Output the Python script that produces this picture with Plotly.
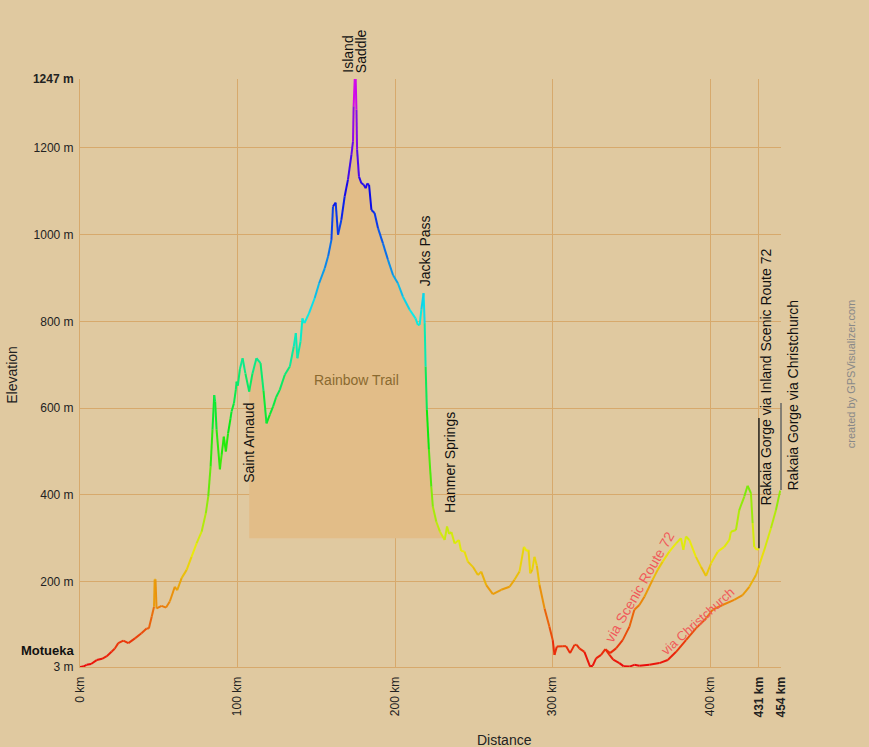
import colorsys
import numpy as np
import plotly.graph_objects as go

# ---------------- data (km, metres) ----------------
# Shared route Motueka -> split point (~333 km)
DIST_MAIN = [0, 2, 4.2, 7, 10.6, 14, 17, 20, 22, 24.3, 27.5, 30.7, 34.9, 39, 42.3, 43.7,
             45.5, 47, 47.4, 47.9, 48.6, 51.8, 54.6, 57, 60.2, 61.7, 64.5, 67.7, 70.8, 74,
             77.2, 79.9, 81.4, 82.9, 84.1, 85.2, 85.8, 86.7, 88.8, 89.9, 91.3, 92.6, 94,
             95.5, 96.2, 97.7, 98.9, 99.4, 100.2, 101.5, 103.2, 105, 107.4, 109.5, 112,
             114.6, 116.5, 118.4, 120.5, 122.6, 124.5, 126.8, 130, 133.2, 135.7, 137, 138,
             140, 141.2, 142.5, 145.4, 149, 151.8, 155.4, 157.5, 159.6, 160.6, 162.3, 163.8,
             165.9, 168, 170.1, 172.3, 173.3, 173.7, 174.4, 175, 175.5, 175.9, 177.1, 178.6,
             180.1, 181.4, 182.3, 183.5, 185, 187, 189.2, 192.3, 195.5, 198.7, 201.8, 205,
             209.3, 213, 214.5, 215.6, 216.7, 218.1, 218.8, 219.4, 220.2, 221.5, 223, 224,
             226.2, 228.5, 231.5, 233, 234.3, 235.8, 237.8, 240.5, 241.9, 244.1, 246.2, 249.4,
             252.6, 254.7, 257.9, 262.1, 267.4, 272.7, 275.8, 279, 281.8, 283.7, 284.7, 285.8,
             287.1, 288.5, 290, 291.7, 294.9, 298, 300.1, 301.2, 302.7, 306.5, 308.6, 311.1,
             313.9, 315.3, 317, 320.2, 323.8, 325.5, 327.6, 330.8, 333.5]
ELEV_MAIN = [3, 4, 8, 10, 19, 22, 28, 38, 45, 58, 64, 58, 69, 81, 92, 92,
             119, 142, 205, 205, 138, 144, 140, 154, 188, 180, 208, 227, 257, 288,
             315, 358, 396, 465, 550, 630, 615, 550, 459, 492, 534, 500, 542,
             575, 592, 611, 642, 661, 652, 690, 715, 680, 638, 680, 715,
             704, 640, 565, 585, 604, 625, 642, 677, 696, 742, 773, 715,
             754, 807, 796, 819, 854, 888, 923, 950, 988, 1065, 1074, 1000,
             1034, 1088, 1127, 1184, 1215, 1296, 1359, 1359, 1288, 1196, 1134, 1119,
             1115, 1107, 1118, 1115, 1057, 1050, 1015, 980, 942, 907, 888, 857,
             827, 807, 792, 792, 827, 865, 796, 696, 596, 504, 419, 373,
             338, 315, 296, 327, 310, 314, 288, 296, 271, 269, 246, 234,
             215, 223, 192, 171, 181, 188, 204, 223, 280, 270, 273, 219,
             227, 257, 237, 192, 138, 96, 65, 31, 50, 51, 51, 35,
             54, 54, 46, 38, 4, 6, 23, 31, 44]

# Branch via Inland Scenic Route 72 (ends at Rakaia Gorge, 431 km)
DIST_SCENIC = [333.5, 336.5, 340.3, 344.5, 348.8, 351.9, 355.1, 358.3, 363.5, 366.7, 369.9,
               374.1, 378.4, 381.5, 383, 384.7, 386.8, 391, 394.2, 397.4, 400.6, 404.8, 409,
               412.2, 413.2, 416.4, 418.5, 421.7, 423.8, 425.9, 427, 428, 429.7, 431]
ELEV_SCENIC = [44, 35, 46, 65, 96, 135, 146, 165, 204, 227, 246,
               269, 288, 300, 273, 304, 296, 257, 234, 213, 242, 269, 280,
               296, 315, 319, 365, 396, 421, 404, 335, 280, 273, 277]

# Branch via Christchurch (ends at Rakaia Gorge, 454 km)
DIST_CHCH = [333.5, 336.1, 338.5, 342.4, 345, 348.8, 351.9, 355.1, 361.4, 367.8, 373.1,
             378.4, 384.7, 391, 397.4, 401.6, 407.9, 415.3, 420.6, 424.9, 429.1, 431.2,
             434.4, 438.6, 441.8, 444.5]
ELEV_CHCH = [44, 31, 20, 12, 5, 4, 8, 6, 8, 12, 19,
             38, 65, 92, 115, 135, 146, 158, 169, 188, 215, 238,
             273, 323, 365, 410]

Y_TICK_VALS = [3, 200, 400, 600, 800, 1000, 1200, 1359]
Y_TICK_TEXT = ["3 m", "200 m", "400 m", "600 m", "800 m", "1000 m", "1200 m", "<b>1247 m</b>"]
X_TICK_VALS = [0, 100, 200, 300, 400, 431, 445]
X_TICK_TEXT = ["0 km", "100 km", "200 km", "300 km", "400 km", "<b>431 km</b>", "<b>454 km</b>"]

RAINBOW_START, RAINBOW_END, RAINBOW_BASE = 107.4, 230.0, 300

X_MAX = 445
Y_MIN, Y_MAX = 3, 1359

# ---------------- styling ----------------
BG = "#E0C9A0"
GRID = "#D7A96C"
FILL = "#E2BD88"
FONT = "Liberation Sans, Arial, sans-serif"
PINK = "#F05A5A"


def elev_color(e):
    t = min(max((e - Y_MIN) / (Y_MAX - Y_MIN), 0), 1)
    r, g, b = colorsys.hsv_to_rgb(t * 300 / 360, 0.95, 0.92)
    return f"rgb({int(r*255)},{int(g*255)},{int(b*255)})"


fig = go.Figure()

# Rainbow Trail shaded area
dm = np.array(DIST_MAIN, dtype=float)
em = np.array(ELEV_MAIN, dtype=float)
mask = (dm >= RAINBOW_START) & (dm <= RAINBOW_END)
fx = [RAINBOW_START] + list(dm[mask]) + [RAINBOW_END, RAINBOW_END, RAINBOW_START]
fy = [float(np.interp(RAINBOW_START, dm, em))] + list(em[mask]) + \
     [float(np.interp(RAINBOW_END, dm, em)), RAINBOW_BASE, RAINBOW_BASE]
fig.add_trace(go.Scatter(x=fx, y=fy, fill="toself", fillcolor=FILL, mode="lines",
                         line=dict(width=0, color=FILL), hoverinfo="skip", showlegend=False))


def add_colored(xs, ys, nbins=100):
    bins = {}
    for i in range(len(xs) - 1):
        m = (ys[i] + ys[i + 1]) / 2
        t = (m - Y_MIN) / (Y_MAX - Y_MIN)
        b = int(round(t * nbins))
        bx, by = bins.setdefault(b, ([], []))
        bx.extend([xs[i], xs[i + 1], None])
        by.extend([ys[i], ys[i + 1], None])
    for b, (bx, by) in sorted(bins.items()):
        e = Y_MIN + b / nbins * (Y_MAX - Y_MIN)
        fig.add_trace(go.Scatter(x=bx, y=by, mode="lines",
                                 line=dict(color=elev_color(e), width=2),
                                 hoverinfo="skip", showlegend=False))


add_colored(DIST_MAIN, ELEV_MAIN)
add_colored(DIST_SCENIC, ELEV_SCENIC)
add_colored(DIST_CHCH, ELEV_CHCH)

# marker lines for the two Rakaia Gorge end points
fig.add_shape(type="line", xref="x", yref="y", x0=431, x1=431, y0=277, y1=577,
              line=dict(color="#222222", width=1.5))
fig.add_shape(type="line", xref="paper", yref="y", x0=1.0, x1=1.0, y0=411, y1=612,
              line=dict(color="#666666", width=1.5))

ann = []


def A(text, x, y, xref="x", yref="y", size=14, color="#111111", angle=0,
      xanchor="center", yanchor="middle"):
    ann.append(dict(text=text, x=x, y=y, xref=xref, yref=yref, showarrow=False,
                    textangle=angle, xanchor=xanchor, yanchor=yanchor,
                    font=dict(family=FONT, size=size, color=color)))


A("<b>Motueka</b>", -0.004, 40, xref="paper", size=13, xanchor="right")
A("Saint Arnaud", 107.2, 423, angle=-90, yanchor="bottom")
A("Island", 169.6, 1.0068, yref="paper", angle=-90, yanchor="bottom")
A("Saddle", 178.5, 1.0068, yref="paper", angle=-90, yanchor="bottom")
A("Jacks Pass", 218.8, 877, angle=-90, yanchor="bottom")
A("Hanmer Springs", 235.3, 354, angle=-90, yanchor="bottom")
A("Rainbow Trail", 175.6, 665, color="#8A6A30")
A("via Scenic Route 72", 355.1, 188, angle=-60, color=PINK)
A("via Christchurch", 391.9, 109, angle=-42, color=PINK, size=13)
A("Rakaia Gorge via Inland Scenic Route 72", 0.9786, 0.272, xref="paper", yref="paper",
  angle=-90, yanchor="bottom")
A("Rakaia Gorge via Christchurch", 1.0171, 0.2976, xref="paper", yref="paper",
  angle=-90, yanchor="bottom")
A("created by GPSVisualizer.com", 1.0999, 0.498, xref="paper", yref="paper",
  angle=-90, size=11, color="#888888")
A("Elevation", -0.097, 0.497, xref="paper", yref="paper", angle=-90, color="#222222")
A("Distance", 0.606, -0.124, xref="paper", yref="paper", color="#222222")

fig.update_layout(
    width=869, height=747,
    margin=dict(l=80, r=88, t=79, b=80),
    paper_bgcolor=BG, plot_bgcolor=BG,
    font=dict(family=FONT, size=12, color="#222222"),
    annotations=ann,
    showlegend=False,
)
fig.update_xaxes(range=[0, X_MAX], tickmode="array", tickvals=X_TICK_VALS, ticktext=X_TICK_TEXT,
                 tickangle=-90, showgrid=True, gridcolor=GRID, gridwidth=1, zeroline=False,
                 showline=True, linecolor=GRID, linewidth=1, ticks="", ticklabelstandoff=4,
                 tickfont=dict(size=12, color="#222222"))
fig.update_yaxes(range=[Y_MIN, Y_MAX], tickmode="array", tickvals=Y_TICK_VALS, ticktext=Y_TICK_TEXT,
                 showgrid=True, gridcolor=GRID, gridwidth=1, zeroline=False,
                 showline=True, linecolor=GRID, linewidth=1, ticks="", ticklabelstandoff=3,
                 tickfont=dict(size=12, color="#222222"))

fig.write_html("out.html", config={"displayModeBar": False},
               post_script="document.body.style.margin='0';document.body.style.overflow='hidden';")
